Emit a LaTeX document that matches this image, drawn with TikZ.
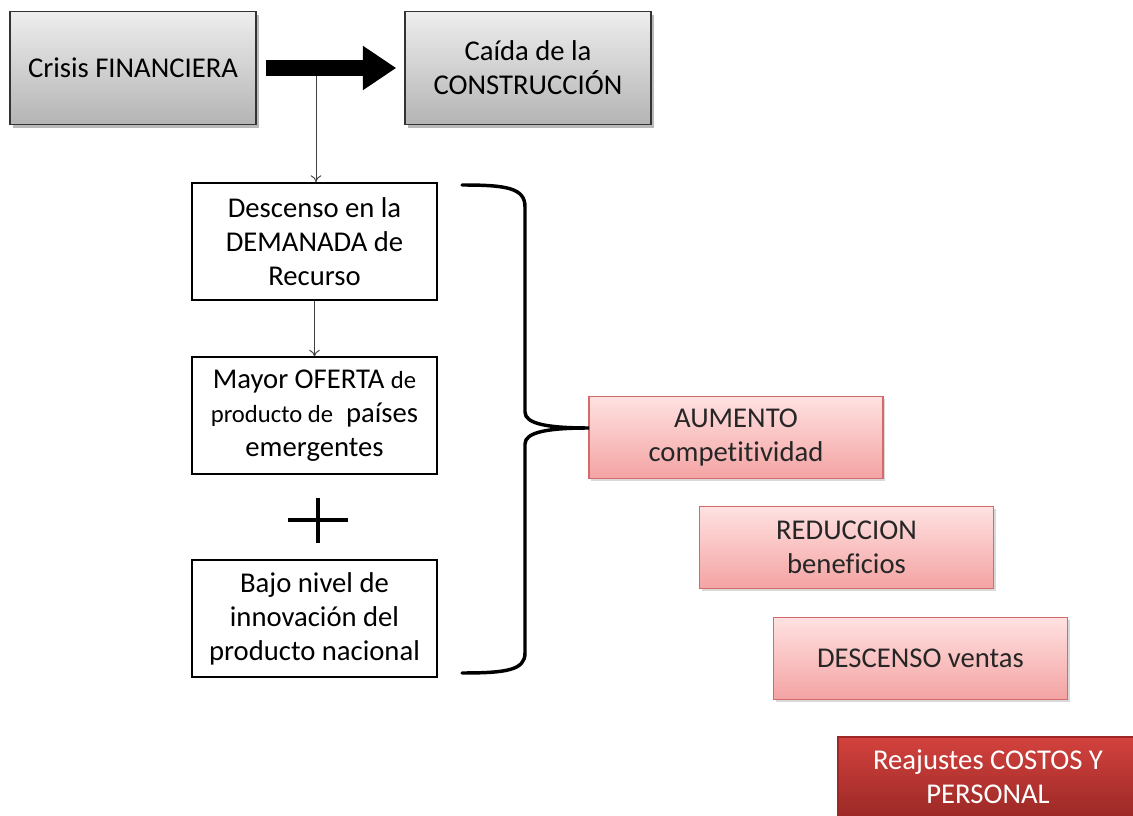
\documentclass[tikz,border=0pt]{standalone}
\usepackage{fontspec}
\setmainfont{Carlito}[Ligatures=NoCommon]
\usetikzlibrary{arrows.meta,shadows}

\definecolor{graytop}{HTML}{EEEEEE}
\definecolor{graybot}{HTML}{B4B4B4}
\definecolor{pinktop}{HTML}{FFE1E1}
\definecolor{pinkbot}{HTML}{F4A3A3}
\definecolor{pinkline}{HTML}{D46A6A}
\definecolor{redtop}{HTML}{D3423E}
\definecolor{redbot}{HTML}{9C2926}

\newcommand{\smalltxt}{\fontsize{18.5}{25.5}\selectfont}

\tikzset{
  every node/.style={font=\fontsize{21.5}{25.5}\selectfont, align=center, inner sep=2pt},
  graybox/.style={draw=black!80, line width=1.1pt, top color=graytop, bottom color=graybot,
    minimum width=184.5pt, minimum height=84.75pt,
    drop shadow={shadow xshift=2pt, shadow yshift=-2.5pt, opacity=0.55}},
  whitebox/.style={draw=black, line width=1.5pt, fill=white,
    minimum width=183.75pt, minimum height=87.75pt},
  pinkbox/.style={draw=pinkline, line width=1pt, top color=pinktop, bottom color=pinkbot,
    text=black!85, minimum width=220.5pt, minimum height=61.5pt,
    drop shadow={shadow xshift=1.5pt, shadow yshift=-2pt, opacity=0.3}},
  redbox/.style={draw=redbot, line width=0.8pt, top color=redtop, bottom color=redbot,
    text=white, minimum width=225pt, minimum height=59.25pt},
  bigarrow/.style={line width=12pt, -{Triangle[length=25pt, width=31.5pt]}},
  thinarrow/.style={draw=black!75, line width=0.7pt, -{To[length=5pt, width=8pt]}},
  bracestyle/.style={line width=2.6pt, line cap=round}
}

\begin{document}
\begin{tikzpicture}[x=0.75pt,y=-0.75pt]
\useasboundingbox (0,0) rectangle (1133,816);

% top row
\node[graybox] (crisis) at (133,68) {Crisis FINANCIERA};
\node[graybox] (caida) at (528,68) {Caída de la\\CONSTRUCCIÓN};

% causes
\node[whitebox] (demanda) at (314.5,241.5) {Descenso en la\\DEMANADA de\\Recurso};
\node[whitebox] (oferta) at (314.5,416) {Mayor OFERTA {\smalltxt de}\\{\smalltxt producto de}\ \ países\\emergentes};
\node[whitebox] (innovacion) at (314.5,618.5) {Bajo nivel de\\innovación del\\producto nacional};

% effects
\node[pinkbox] (aumento) at (736,437.5) {AUMENTO\\competitividad};
\node[pinkbox] (reduccion) at (846.5,547.5) {REDUCCION\\beneficios};
\node[pinkbox] (ventas) at (920.5,658.5) {DESCENSO ventas};
\node[redbox] (reajustes) at (988,776.5) {Reajustes COSTOS Y\\PERSONAL};

% arrows
\draw[bigarrow, shorten <=6.75pt, shorten >=6pt] (crisis.east) -- (caida.west);
\coordinate (split) at (316,76);
\draw[thinarrow] (split) -- (split |- demanda.north);
\draw[thinarrow] (demanda) -- (oferta);

% plus sign
\draw[line width=3.6pt] (288,520) -- (348,520) (318,498) -- (318,543);

% brace
\coordinate (tip) at (589,428);
\draw[bracestyle] (462,185) .. controls (507,185) and (525,188) .. (525,207)
  -- (525,412) .. controls (525,424) and (548,428) .. (tip)
  .. controls (548,428) and (525,432) .. (525,444)
  -- (525,653) .. controls (525,670) and (507,673) .. (462,673);

\end{tikzpicture}
\end{document}
